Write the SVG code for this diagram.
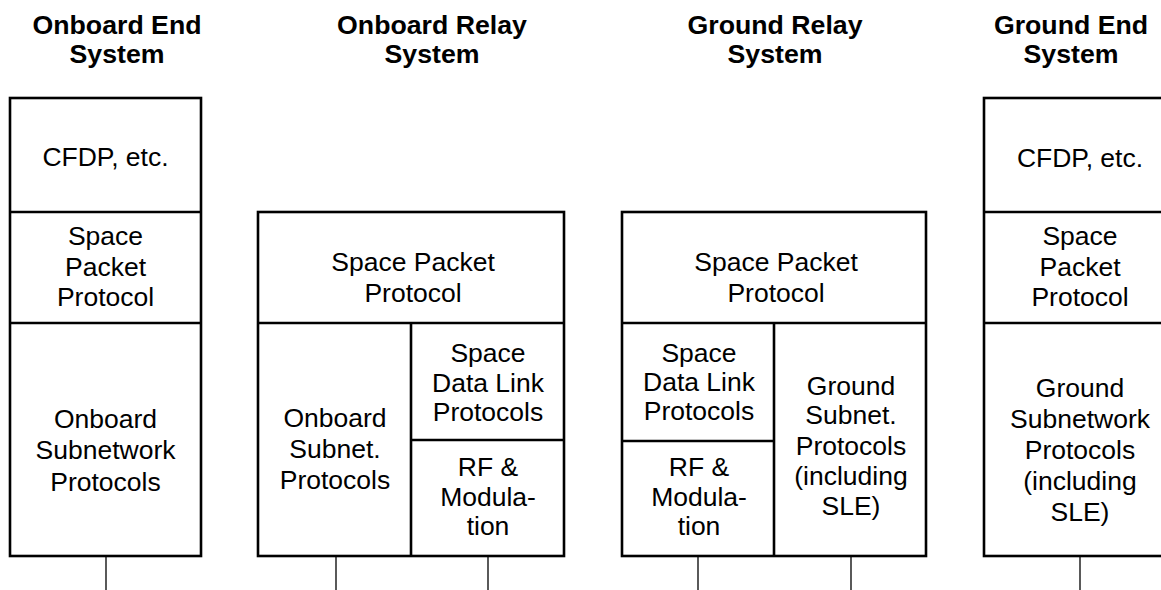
<svg xmlns="http://www.w3.org/2000/svg" width="1161" height="590" viewBox="0 0 1161 590">
<style>
.box{fill:#fff;stroke:#000;stroke-width:2.6}
.div{fill:none;stroke:#000;stroke-width:2.6}
.con{fill:none;stroke:#000;stroke-width:1.3}
text{font-family:"Liberation Sans",Arial,sans-serif;font-size:26.5px;fill:#000;text-anchor:middle}
.title{font-weight:bold;font-size:26.7px}
</style>
<rect width="1161" height="590" fill="#fff"/>
<g id="onboard-end-system">
<text class="title" x="117" y="34">Onboard End</text>
<text class="title" x="117" y="63">System</text>
<rect class="box" x="10" y="98" width="191" height="458"/>
<line class="div" x1="10" y1="212" x2="201" y2="212"/>
<line class="div" x1="10" y1="323" x2="201" y2="323"/>
<text x="105.5" y="166">CFDP, etc.</text>
<text x="105.5" y="245">Space</text>
<text x="105.5" y="276">Packet</text>
<text x="105.5" y="306">Protocol</text>
<text x="105.5" y="428">Onboard</text>
<text x="105.5" y="459">Subnetwork</text>
<text x="105.5" y="491">Protocols</text>
</g>
<g id="onboard-relay-system">
<text class="title" x="432" y="34">Onboard Relay</text>
<text class="title" x="432" y="63">System</text>
<rect class="box" x="258" y="212" width="306" height="344"/>
<line class="div" x1="258" y1="323" x2="564" y2="323"/>
<line class="div" x1="411" y1="323" x2="411" y2="556"/>
<line class="div" x1="411" y1="440" x2="564" y2="440"/>
<text x="413" y="271">Space Packet</text>
<text x="413" y="302">Protocol</text>
<text x="335" y="427">Onboard</text>
<text x="335" y="458">Subnet.</text>
<text x="335" y="489">Protocols</text>
<text x="488" y="362">Space</text>
<text x="488" y="392">Data Link</text>
<text x="488" y="421">Protocols</text>
<text x="488" y="476">RF &amp;</text>
<text x="488" y="506">Modula-</text>
<text x="488" y="535">tion</text>
</g>
<g id="ground-relay-system">
<text class="title" x="775" y="34">Ground Relay</text>
<text class="title" x="775" y="63">System</text>
<rect class="box" x="622" y="212" width="304" height="344"/>
<line class="div" x1="622" y1="323" x2="926" y2="323"/>
<line class="div" x1="774" y1="323" x2="774" y2="556"/>
<line class="div" x1="622" y1="441" x2="774" y2="441"/>
<text x="776" y="271">Space Packet</text>
<text x="776" y="302">Protocol</text>
<text x="699" y="362">Space</text>
<text x="699" y="391">Data Link</text>
<text x="699" y="420">Protocols</text>
<text x="699" y="476">RF &amp;</text>
<text x="699" y="506">Modula-</text>
<text x="699" y="535">tion</text>
<text x="851" y="395">Ground</text>
<text x="851" y="424">Subnet.</text>
<text x="851" y="455">Protocols</text>
<text x="851" y="485">(including</text>
<text x="851" y="515">SLE)</text>
</g>
<g id="ground-end-system">
<text class="title" x="1071" y="34">Ground End</text>
<text class="title" x="1071" y="63">System</text>
<rect class="box" x="984" y="98" width="192" height="458"/>
<line class="div" x1="984" y1="212" x2="1176" y2="212"/>
<line class="div" x1="984" y1="323" x2="1176" y2="323"/>
<text x="1080" y="167">CFDP, etc.</text>
<text x="1080" y="245">Space</text>
<text x="1080" y="276">Packet</text>
<text x="1080" y="306">Protocol</text>
<text x="1080" y="397">Ground</text>
<text x="1080" y="428">Subnetwork</text>
<text x="1080" y="459">Protocols</text>
<text x="1080" y="490">(including</text>
<text x="1080" y="521">SLE)</text>
</g>
<g id="connectors">
<line class="con" x1="106" y1="557" x2="106" y2="590"/>
<line class="con" x1="336" y1="557" x2="336" y2="590"/>
<line class="con" x1="488" y1="557" x2="488" y2="590"/>
<line class="con" x1="698" y1="557" x2="698" y2="590"/>
<line class="con" x1="851" y1="557" x2="851" y2="590"/>
<line class="con" x1="1080" y1="557" x2="1080" y2="590"/>
</g>
</svg>
